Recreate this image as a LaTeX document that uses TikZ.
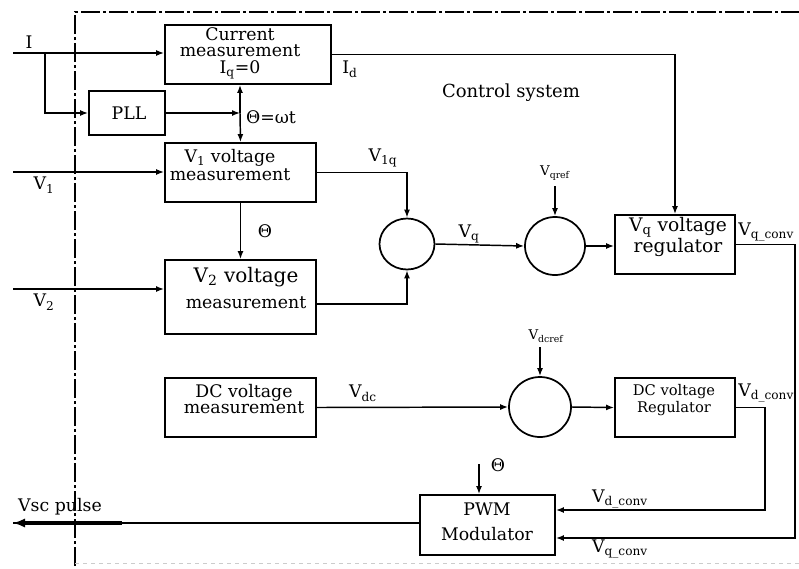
\documentclass[tikz,border=0pt]{standalone}
\usepackage{fontspec}
\setmainfont{DejaVu Serif}
\usetikzlibrary{arrows.meta,shapes.geometric,calc}

\begin{document}
\begin{tikzpicture}[x=0.75pt,y=-0.75pt,
  box/.style={draw,line width=1.4pt,inner sep=0pt},
  sumpt/.style={draw,ellipse,line width=1.3pt,inner sep=0pt},
  txt/.style={align=center,inner sep=0pt,font=\fontsize{13}{12.5}\selectfont},
  small/.style={inner sep=0pt,font=\fontsize{10}{10}\selectfont},
  sig/.style={line width=1.1pt,-{Latex[length=6pt,width=4.5pt]}},
  wire/.style={line width=1.1pt}]
\useasboundingbox (0,0) rectangle (799,568);
% border of the control system
\draw[line width=1pt,dash pattern=on 14pt off 2.5pt on 2pt off 2.5pt] (75,566) -- (75,12) -- (815,12);
\draw[line width=0.6pt,gray!40,dashed] (75,563) -- (815,563);
\node[txt,font=\fontsize{13.5}{13.5}\selectfont] (ctrl) at (511,93) {Control system};

% blocks
\node[box,minimum width=124.5pt,minimum height=44.25pt] (cur) at (248,54.5) {};
\node[box,minimum width=57pt,minimum height=33pt] (pll) at (127,113) {};
\node[box,minimum width=113.25pt,minimum height=44.25pt] (vone) at (240.5,172.5) {};
\node[box,minimum width=113.25pt,minimum height=55.5pt] (vtwo) at (240.5,297) {};
\node[box,minimum width=113.25pt,minimum height=44.25pt] (dcm) at (240.5,407.5) {};
\node[box,minimum width=90pt,minimum height=44.25pt] (vqreg) at (675,244.5) {};
\node[box,minimum width=90pt,minimum height=44.25pt] (dcreg) at (675,407.5) {};
\node[box,minimum width=101.25pt,minimum height=45pt] (pwm) at (487.5,525) {};
\node[sumpt,minimum width=41.25pt,minimum height=38.25pt] (sumq) at (407,244) {};
\node[sumpt,minimum width=45pt,minimum height=43.5pt] (sumr) at (555,246) {};
\node[sumpt,minimum width=46.5pt,minimum height=45pt] (sumdc) at (540,407) {};

% block texts
\node[txt] (curtxt) at (240,53) {Current\\measurement\\I\textsubscript{q}=0};
\node[txt] (plltxt) at (129,113) {PLL};
\node[txt,font=\fontsize{13}{14}\selectfont] (vonetxt) at (230,165) {V\textsubscript{1} voltage\\measurement};
\node[txt,font=\fontsize{13}{20}\selectfont] (vtwotxt) at (246,288) {{\fontsize{15}{15}\selectfont V\textsubscript{2} voltage}\\measurement};
\node[txt] (dcmtxt) at (244,399) {DC voltage\\measurement};
\node[txt,font=\fontsize{14}{13}\selectfont] (vqregtxt) at (678,237) {V\textsubscript{q} voltage\\regulator};
\node[txt,font=\fontsize{11}{12.5}\selectfont] (dcregtxt) at (674,400) {DC voltage\\Regulator};
\node[txt,font=\fontsize{13}{18.75}\selectfont] (pwmtxt) at (487,522) {PWM\\Modulator};

% inputs
\coordinate (iin) at (13,53);
\coordinate (ibr) at (45,53);
\coordinate (vonein) at (13,172);
\coordinate (vtwoin) at (13,289);
\draw[sig] (iin) -- (iin -| cur.west);
\draw[sig] (ibr) |- (pll.west);
\draw[sig] (vonein) -- (vonein -| vone.west);
\draw[sig] (vtwoin) -- (vtwoin -| vtwo.west);
\node[txt] (ilab) at (29,42) {I};
\node[txt] (vonelab) at (44,185) {V\textsubscript{1}};
\node[txt] (vtwolab) at (44,302) {V\textsubscript{2}};

% angle from the PLL
\coordinate (th) at (240,113);
\draw[sig] (pll.east) -- (th);
\draw[sig] (th) -- (th |- cur.south);
\draw[sig] (th) -- (vone.north);
\draw[sig] (vone.south) -- (vtwo.north);
\node[txt] (thlab) at (271,117) {Θ=ωt};
\node[txt] (thvlab) at (265,231) {Θ};

% q axis
\coordinate (vtwoout) at (316,304);
\draw[sig] (vone.east) -| (sumq.north);
\draw[sig] (vtwoout) -| (sumq.south);
\draw[sig] (sumq.east) -- (sumr.west);
\coordinate (vqref) at (555,186);
\draw[sig] (vqref) -- (sumr.north);
\draw[sig] (sumr.east) -- (sumr.east -| vqreg.west);
\draw[sig] (cur.east) -| (vqreg.north);
\node[txt] (vonqlab) at (383,158) {V\textsubscript{1q}};
\node[txt] (vqlab) at (469,234) {V\textsubscript{q}};
\node[small] (vqreflab) at (555,173) {V\textsubscript{qref}};
\node[txt] (idlab) at (350,69) {I\textsubscript{d}};

% dc axis
\draw[sig] (dcm.east) -- (sumdc.west);
\coordinate (vdcref) at (540,347);
\draw[sig] (vdcref) -- (sumdc.north);
\draw[sig] (sumdc.east) -- (dcreg.west);
\node[txt] (vdclab) at (363,393) {V\textsubscript{dc}};
\node[small] (vdcreflab) at (546,336) {V\textsubscript{dcref}};

% to the modulator
\coordinate (qc) at (795,538);
\coordinate (dc) at (765,510);
\draw[sig] (vqreg.east) -| (qc) -- (qc -| pwm.east);
\draw[sig] (dcreg.east) -| (dc) -- (dc -| pwm.east);
\node[txt,anchor=west] (vqcr) at (738,232) {V\textsubscript{q\_conv}};
\node[txt,anchor=west] (vdcr) at (738,393) {V\textsubscript{d\_conv}};
\node[txt] (vdclow) at (620,499) {V\textsubscript{d\_conv}};
\node[txt] (vqclow) at (620,549) {V\textsubscript{q\_conv}};
\coordinate (thp) at (479,464);
\draw[sig] (thp) -- (thp |- pwm.north);
\node[txt] (thplab) at (498,465) {Θ};

% output
\coordinate (vsc) at (13,523);
\draw[wire] (pwm.west |- vsc) -- (vsc);
\draw[line width=2.4pt,-{Latex[length=9pt,width=7pt]}] ($(vsc)+(109,0)$) -- (vsc);
\node[txt] (vsclab) at (60,507) {Vsc pulse};
\end{tikzpicture}
\end{document}
